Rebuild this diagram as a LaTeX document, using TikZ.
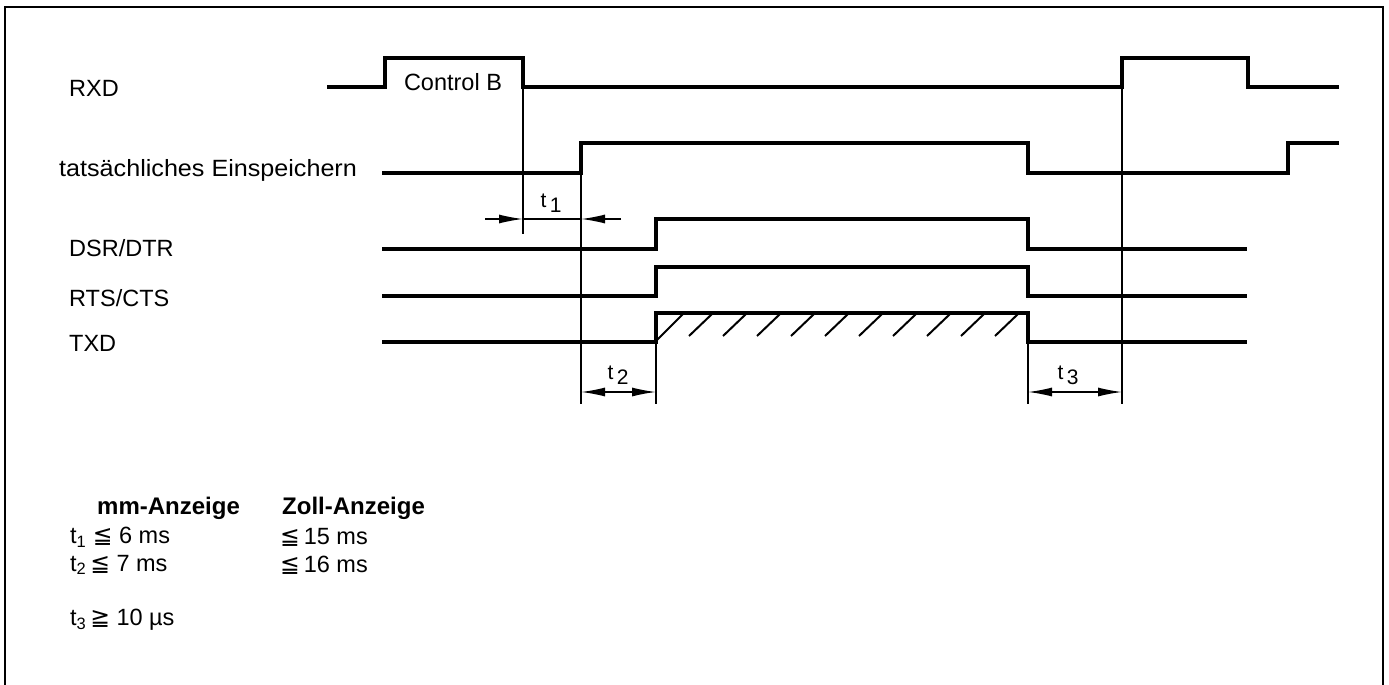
\documentclass[tikz,border=0pt]{standalone}
\usepackage{fontspec}
\setmainfont{Liberation Sans}
\newfontfamily\dvs{DejaVu Sans}
\usetikzlibrary{arrows.meta}
\begin{document}
\begin{tikzpicture}[x=1pt,y=-1pt,
  sig/.style={line width=3.4pt, line join=miter},
  thinline/.style={line width=1.6pt},
  lbl/.style={anchor=west, inner sep=0pt, font=\fontsize{23.5}{28}\selectfont},
  blbl/.style={anchor=west, inner sep=0pt, font=\fontsize{24}{28}\selectfont\bfseries},
  tlbl/.style={inner sep=0pt, font=\fontsize{21}{24}\selectfont},
  dimarrow/.style={line width=1.4pt, -{Latex[length=24pt,width=9pt]}},
  dimboth/.style={line width=1.4pt, {Latex[length=24pt,width=9pt]}-{Latex[length=24pt,width=9pt]}},
  hatch/.style={line width=2pt}]
\useasboundingbox (0,0) rectangle (1389,685);
% frame
\draw[line width=1.5pt] (5,685) -- (5,7) -- (1383,7) -- (1383,685);
% labels
\node[lbl] (lrxd) at (69,88) {RXD};
\node[lbl] (ltats) at (59,170) {\scalebox{1.07}[1]{tatsächliches Einspeichern}};
\node[lbl] (ldsr) at (69,248) {DSR/DTR};
\node[lbl] (lrts) at (69,298) {RTS/CTS};
\node[lbl] (ltxd) at (69,343) {TXD};
% signals
\draw[sig] (327,87) -- (385,87) -- (385,58) -- (523,58) -- (523,87) -- (1122,87) -- (1122,58) -- (1248,58) -- (1248,87) -- (1339,87);
\node[lbl, anchor=center] (ctrlb) at (453,82) {Control B};
\draw[sig] (382,173) -- (581,173) -- (581,143) -- (1028,143) -- (1028,173) -- (1288,173) -- (1288,143) -- (1339,143);
\draw[sig] (382,249) -- (656,249) -- (656,219) -- (1028,219) -- (1028,249) -- (1247,249);
\draw[sig] (382,296) -- (656,296) -- (656,267) -- (1028,267) -- (1028,296) -- (1247,296);
\draw[sig] (382,342) -- (656,342) -- (656,313) -- (1028,313) -- (1028,342) -- (1247,342);
% hatching
\draw[hatch] (657,340) -- (683,314);
\foreach \x in {712,746,780,814,848,882,916,950,984,1018}
  \draw[hatch] (\x-23,336) -- (\x,314);
% vertical reference lines
\coordinate (v1t) at (523,87);  \coordinate (v1b) at (523,234);
\coordinate (v2t) at (581,173); \coordinate (v2b) at (581,404);
\coordinate (v3t) at (656,342); \coordinate (v3b) at (656,404);
\coordinate (v4t) at (1028,342);\coordinate (v4b) at (1028,404);
\coordinate (v5t) at (1122,87); \coordinate (v5b) at (1122,404);
\draw[thinline] (v1t) -- (v1b);
\draw[thinline] (v2t) -- (v2b);
\draw[thinline] (v3t) -- (v3b);
\draw[thinline] (v4t) -- (v4b);
\draw[thinline] (v5t) -- (v5b);
% t1
\coordinate (t1a) at (485,219); \coordinate (t1b) at (523,219);
\coordinate (t1c) at (581,219); \coordinate (t1d) at (621,219);
\draw[dimarrow] (t1a) -- (t1b);
\draw[dimarrow] (t1d) -- (t1c);
\draw[line width=1.4pt] (t1b) -- (t1c);
\node[tlbl] (lt1) at (551,203) {t\,\raisebox{-5pt}{1}};
% t2
\coordinate (t2a) at (581,392); \coordinate (t2b) at (656,392);
\draw[dimboth] (t2a) -- (t2b);
\node[tlbl] (lt2) at (618,375) {t\,\raisebox{-5pt}{2}};
% t3
\coordinate (t3a) at (1028,392); \coordinate (t3b) at (1122,392);
\draw[dimboth] (t3a) -- (t3b);
\node[tlbl] (lt3) at (1068,375) {t\,\raisebox{-5pt}{3}};
% table
\node[blbl] (hmm) at (97,508) {mm-Anzeige};
\node[blbl] (hzoll) at (282,508) {Zoll-Anzeige};
\node[lbl] (r1a) at (70,537) {t\textsubscript{1} {\dvs ≦} 6 ms};
\node[lbl] (r1b) at (280,537) {{\dvs ≦}\,15 ms};
\node[lbl] (r2a) at (70,565) {t\textsubscript{2}\,{\dvs ≦} 7 ms};
\node[lbl] (r2b) at (280,565) {{\dvs ≦}\,16 ms};
\node[lbl] (r3a) at (70,620) {t\textsubscript{3}\,{\dvs ≧} 10 µs};
\end{tikzpicture}
\end{document}
